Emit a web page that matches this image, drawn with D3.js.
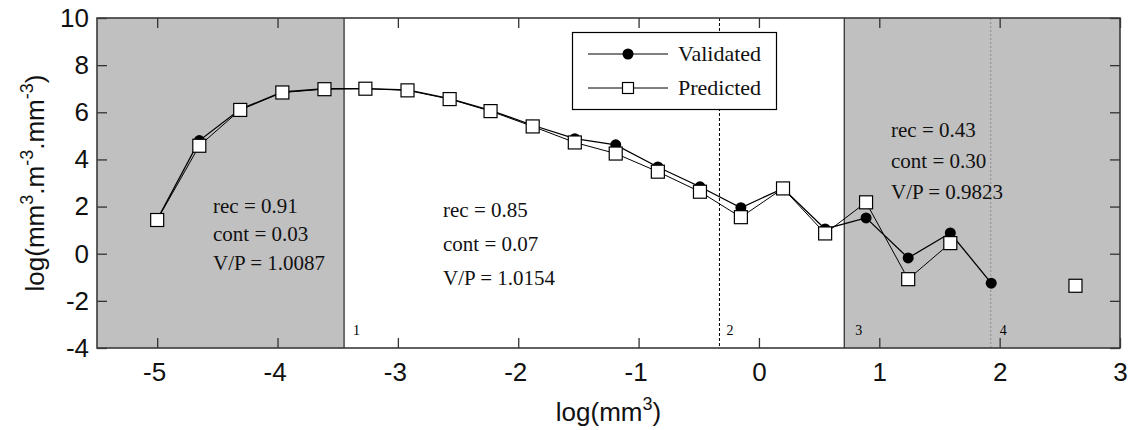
<!DOCTYPE html>
<html>
<head>
<meta charset="utf-8">
<script src="https://cdn.jsdelivr.net/npm/d3@7"></script>
<style>
  html, body { margin: 0; padding: 0; background: #fff; }
  svg { display: block; }
</style>
</head>
<body>
<svg id="chart" width="1129" height="430"></svg>
<script>
// ---- data ----
const sizeClass = [-5.00, -4.65, -4.31, -3.96, -3.61, -3.27, -2.92, -2.57, -2.23, -1.88, -1.53,
                   -1.19, -0.84, -0.49, -0.15, 0.20, 0.55, 0.89, 1.24, 1.59, 1.93, 2.63];
const validated = [1.45, 4.80, 6.13, 6.86, 7.00, 7.00, 6.95, 6.58, 6.08, 5.45, 4.88,
                   4.62, 3.68, 2.84, 1.95, 2.77, 1.05, 1.52, -0.18, 0.88, -1.25, null];
const predicted = [1.43, 4.58, 6.10, 6.84, 6.98, 7.00, 6.93, 6.56, 6.05, 5.40, 4.72,
                   4.25, 3.48, 2.63, 1.55, 2.77, 0.86, 2.18, -1.08, 0.45, null, -1.36];
const xTicks = [-5, -4, -3, -2, -1, 0, 1, 2, 3];
const yTicks = [-4, -2, 0, 2, 4, 6, 8, 10];
const boundaries = [-3.447, -0.328, 0.709, 1.926];
const boundaryLabels = ["1", "2", "3", "4"];
const shadedRanges = [[-5.5, -3.447], [0.709, 3]];
const seriesNames = ["Validated", "Predicted"];
const annotations = [
  ["rec = 0.91", "cont = 0.03", "V/P = 1.0087"],
  ["rec = 0.85", "cont = 0.07", "V/P = 1.0154"],
  ["rec = 0.43", "cont = 0.30", "V/P = 0.9823"]
];

// ---- layout ----
const L = 97, R = 1120, T = 18, B = 348;
const svg = d3.select("#chart");
const x = d3.scaleLinear().domain([-5.5, 3]).range([L, R]);
const y = d3.scaleLinear().domain([-4, 10]).range([B, T]);
const sans = "'Liberation Sans', Arial, sans-serif";
const serif = "'Liberation Serif', 'Times New Roman', serif";
const plainFmt = d => String(d);

// shaded regions
svg.selectAll("rect.shade").data(shadedRanges).enter().append("rect")
  .attr("class", "shade")
  .attr("x", d => x(d[0])).attr("y", T)
  .attr("width", d => x(d[1]) - x(d[0])).attr("height", B - T)
  .attr("fill", "#c0c0c0");

// boundary lines
const bStyles = [
  {stroke: "#000", dash: null, w: 1},
  {stroke: "#000", dash: "3,2", w: 1},
  {stroke: "#333", dash: null, w: 1.3},
  {stroke: "#888", dash: "2,2", w: 1}
];
svg.selectAll("line.bound").data(boundaries).enter().append("line")
  .attr("x1", d => x(d)).attr("x2", d => x(d)).attr("y1", T).attr("y2", B)
  .attr("stroke", (d, i) => bStyles[i].stroke)
  .attr("stroke-width", (d, i) => bStyles[i].w)
  .attr("stroke-dasharray", (d, i) => bStyles[i].dash);
const bOff = [9, 7, 11, 9];
svg.selectAll("text.blab").data(boundaries).enter().append("text")
  .attr("x", (d, i) => x(d) + bOff[i]).attr("y", 335)
  .attr("font-family", serif).attr("font-size", 14).attr("fill", "#000")
  .text((d, i) => boundaryLabels[i]);

// annotations
const annPos = [[213, [213, 241, 270]], [443, [217, 251, 285]], [891, [137, 168, 199]]];
annotations.forEach((lines, k) => {
  svg.selectAll(null).data(lines).enter().append("text")
    .attr("x", annPos[k][0]).attr("y", (d, i) => annPos[k][1][i])
    .attr("font-family", serif).attr("font-size", 21).attr("fill", "#111")
    .text(d => d);
});

// series
const vData = sizeClass.map((s, i) => ({x: s, y: validated[i]}));
const pData = sizeClass.map((s, i) => ({x: s, y: predicted[i]}));
const line = d3.line().defined(d => d.y != null).x(d => x(d.x)).y(d => y(d.y));
svg.append("path").datum(vData).attr("d", line)
  .attr("fill", "none").attr("stroke", "#000").attr("stroke-width", 1.3);
svg.append("path").datum(pData).attr("d", line)
  .attr("fill", "none").attr("stroke", "#000").attr("stroke-width", 1);
svg.selectAll("circle.v").data(vData.filter(d => d.y != null)).enter().append("circle")
  .attr("cx", d => x(d.x)).attr("cy", d => y(d.y)).attr("r", 5.5).attr("fill", "#000");
const sq = 13;
svg.selectAll("rect.p").data(pData.filter(d => d.y != null)).enter().append("rect")
  .attr("x", d => x(d.x) - sq / 2).attr("y", d => y(d.y) - sq / 2)
  .attr("width", sq).attr("height", sq)
  .attr("fill", "#fff").attr("stroke", "#000").attr("stroke-width", 1.2);

// legend
const lg = svg.append("g");
lg.append("rect").attr("x", 572.5).attr("y", 32.5).attr("width", 204).attr("height", 77)
  .attr("fill", "#fff").attr("stroke", "#000").attr("stroke-width", 1.2);
const rowsY = [54, 88];
seriesNames.forEach((name, i) => {
  lg.append("line").attr("x1", 588).attr("x2", 668).attr("y1", rowsY[i]).attr("y2", rowsY[i])
    .attr("stroke", "#000").attr("stroke-width", 1);
  if (i === 0) {
    lg.append("circle").attr("cx", 628).attr("cy", rowsY[i]).attr("r", 5.5).attr("fill", "#000");
  } else {
    lg.append("rect").attr("x", 622.5).attr("y", rowsY[i] - 5.5).attr("width", 11).attr("height", 11)
      .attr("fill", "#fff").attr("stroke", "#000").attr("stroke-width", 1.2);
  }
  lg.append("text").attr("x", 678).attr("y", rowsY[i] + 7)
    .attr("font-family", serif).attr("font-size", 22).attr("fill", "#111").text(name);
});

// axes
function styleAxis(g, showText) {
  g.select(".domain").remove();
  g.selectAll(".tick line").attr("stroke", "#333").attr("stroke-width", 1.3);
  g.selectAll(".tick text").attr("font-family", sans).attr("font-size", 26).attr("fill", "#111");
  if (!showText) g.selectAll(".tick text").remove();
}
svg.append("g").attr("transform", `translate(0,${B})`)
  .call(d3.axisBottom(x).tickValues(xTicks).tickSizeInner(-10).tickSizeOuter(0).tickPadding(15).tickFormat(plainFmt))
  .call(g => styleAxis(g, true))
  .call(g => g.selectAll(".tick text").attr("dx", d => d < 0 ? -3 : 0));
svg.append("g").attr("transform", `translate(0,${T})`)
  .call(d3.axisTop(x).tickValues(xTicks).tickSizeInner(-10).tickSizeOuter(0))
  .call(g => styleAxis(g, false));
svg.append("g").attr("transform", `translate(${L},0)`)
  .call(d3.axisLeft(y).tickValues(yTicks).tickSizeInner(-10).tickSizeOuter(0).tickPadding(8).tickFormat(plainFmt))
  .call(g => styleAxis(g, true));
svg.append("g").attr("transform", `translate(${R},0)`)
  .call(d3.axisRight(y).tickValues(yTicks).tickSizeInner(-10).tickSizeOuter(0))
  .call(g => styleAxis(g, false));

// frame
svg.append("rect").attr("x", L).attr("y", T).attr("width", R - L).attr("height", B - T)
  .attr("fill", "none").attr("stroke", "#3a3a3a").attr("stroke-width", 1.6);

// axis titles
const xt = svg.append("text").attr("x", (L + R) / 2).attr("y", 421)
  .attr("text-anchor", "middle").attr("font-family", sans).attr("font-size", 26).attr("fill", "#111");
xt.append("tspan").text("log(mm");
xt.append("tspan").attr("dy", -11).attr("font-size", 18).text("3");
xt.append("tspan").attr("dy", 11).text(")");

const yt = svg.append("text").attr("transform", `translate(44,${(T + B) / 2}) rotate(-90)`)
  .attr("text-anchor", "middle").attr("font-family", sans).attr("font-size", 26).attr("fill", "#111");
const yParts = [["log(mm", 0], ["3", 1], [".m", 0], ["-3", 1], [".mm", 0], ["-3", 1], [")", 0]];
let lvl = 0;
yParts.forEach(([t, sup]) => {
  const ts = yt.append("tspan").text(t);
  if (sup && !lvl) { ts.attr("dy", -11).attr("font-size", 18); lvl = 1; }
  else if (sup) { ts.attr("font-size", 18); }
  else if (lvl) { ts.attr("dy", 11); lvl = 0; }
});
</script>
</body>
</html>
